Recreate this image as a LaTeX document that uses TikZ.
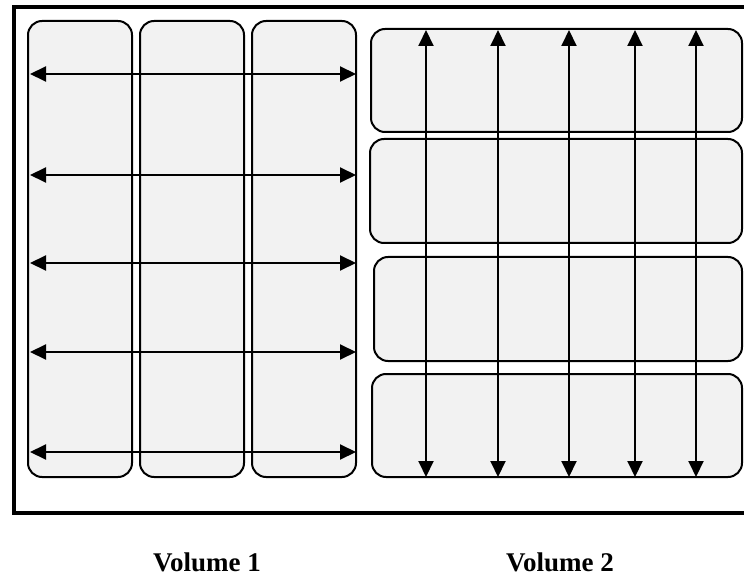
\documentclass[tikz,border=0pt]{standalone}
\usepackage{fontspec}
\setmainfont{Liberation Serif}
\usetikzlibrary{arrows.meta}
\begin{document}
\begin{tikzpicture}[x=1pt,y=-1pt,
  cell/.style={draw=black, line width=2pt, fill=gray!10, rounded corners=14pt, inner sep=0pt, outer sep=0pt},
  biarrow/.style={line width=2pt, {Triangle[length=16pt,width=15pt]}-{Triangle[length=16pt,width=15pt]}},
  frame/.style={line width=4pt},
  lbl/.style={font=\bfseries\fontsize{27}{30}\selectfont, inner sep=0pt}]
\useasboundingbox (0,0) rectangle (744,577);
\begin{scope}
\clip (0,0) rectangle (744,577);
\draw[frame] (14,7) rectangle (770,513);
\end{scope}
% Volume 1 columns
\node[cell, minimum width=104pt, minimum height=456pt] (c1) at (80,249) {};
\node[cell, minimum width=104pt, minimum height=456pt] (c2) at (192,249) {};
\node[cell, minimum width=104pt, minimum height=456pt] (c3) at (304,249) {};
% Volume 2 rows
\node[cell, minimum width=371pt, minimum height=103pt] (r1) at (556.5,80.5) {};
\node[cell, minimum width=372pt, minimum height=104pt] (r2) at (556,191) {};
\node[cell, minimum width=368pt, minimum height=104pt] (r3) at (558,309) {};
\node[cell, minimum width=370pt, minimum height=103pt] (r4) at (557,425.5) {};
% horizontal arrows
\foreach \i/\y in {1/74,2/175,3/263,4/352,5/452}{
  \coordinate (hl\i) at (30,\y);
  \coordinate (hr\i) at (356,\y);
  \draw[biarrow] (hl\i) -- (hr\i);
}
% vertical arrows
\foreach \i/\x in {1/426,2/498,3/569,4/635,5/696}{
  \coordinate (vt\i) at (\x,30);
  \coordinate (vb\i) at (\x,477);
  \draw[biarrow] (vt\i) -- (vb\i);
}
\node[lbl] (v1) at (207,562) {Volume 1};
\node[lbl] (v2) at (560,562) {Volume 2};
\end{tikzpicture}
\end{document}
